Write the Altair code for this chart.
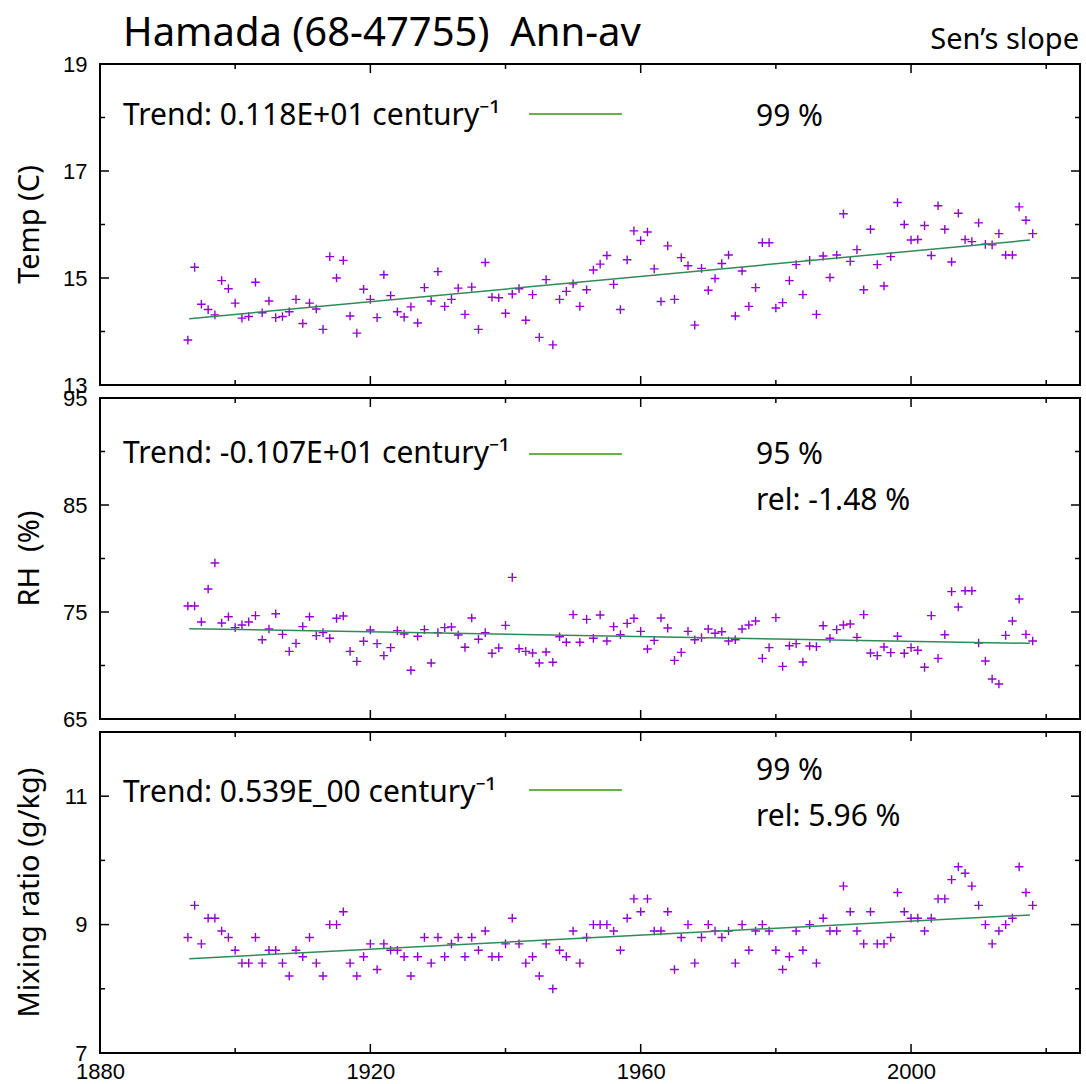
import altair as alt
import pandas as pd

# ---------------- data ----------------
years = list(range(1893, 2019))

temp = [
    13.84, 15.20, 14.51, 14.41, 14.31, 14.95, 14.80, 14.53, 14.25, 14.28,
    14.92, 14.35, 14.57, 14.26, 14.28, 14.37, 14.60, 14.15, 14.53, 14.42,
    14.04, 15.40, 15.00, 15.33, 14.29, 13.97, 14.79, 14.60, 14.26, 15.06,
    14.67, 14.37, 14.27, 14.46, 14.16, 14.82, 14.57, 15.12, 14.47, 14.60,
    14.81,
    14.32, 14.83, 14.04, 15.29, 14.64, 14.63, 14.34, 14.70, 14.80, 14.21,
    14.69, 13.89, 14.97, 13.75, 14.60, 14.75, 14.89, 14.47, 14.78, 15.15,
    15.26, 15.42, 14.88, 14.41, 15.34, 15.88, 15.70, 15.86, 15.17, 14.56,
    15.60, 14.60, 15.38, 15.23, 14.12, 15.18, 14.77, 14.99, 15.27, 15.43,
    14.29, 15.13, 14.47, 14.82, 15.66, 15.66, 14.44, 14.54, 14.95, 15.25,
    14.69, 15.33, 14.32, 15.41, 15.01, 15.43, 16.20, 15.31, 15.53, 14.78,
    15.91, 15.25, 14.85, 15.40, 16.41, 16.00, 15.71, 15.72, 15.98, 15.42,
    16.35, 15.91, 15.30, 16.21, 15.72, 15.68, 16.03, 15.63, 15.62, 15.83,
    15.43, 15.43, 16.33, 16.08, 15.83,
]

rh = [
    75.56, 75.56, 74.07, 77.15, 79.58, 73.97, 74.56, 73.54, 73.79, 74.07,
    74.66, 72.41, 73.41, 74.84, 72.91, 71.32, 72.07, 73.63, 74.56, 72.79,
    73.07, 72.54, 74.41, 74.63, 71.32, 70.39, 72.26, 73.32, 72.04, 70.92,
    71.67, 73.26, 72.94, 69.55, 72.73, 73.35, 70.23, 73.07, 73.54, 73.60,
    72.85,
    71.70, 74.44, 72.45, 73.07, 71.14, 71.64, 73.75, 78.24, 71.57, 71.32,
    71.17, 70.23, 71.26, 70.30, 72.69, 72.17, 74.75, 72.17, 74.31, 72.54,
    74.72, 72.29, 73.63, 72.88, 73.94, 74.41, 73.19, 71.54, 72.35, 74.44,
    73.50, 70.48, 71.23, 73.19, 72.41, 72.60, 73.41, 73.01, 73.16, 72.29,
    72.41, 73.41, 73.79, 74.16, 70.67, 71.67, 74.47, 69.92, 71.85, 72.04,
    70.33, 71.82, 71.76, 73.72, 72.54, 73.35, 73.79, 73.88, 72.63, 74.75,
    71.17, 70.92, 71.73, 71.20, 72.73, 71.14, 71.67, 71.42, 69.83, 74.66,
    70.67, 72.88, 76.90, 75.47, 76.99, 76.99, 72.10, 70.42, 68.74, 68.27,
    72.82, 74.16, 76.21, 72.91, 72.29,
]

mix = [
    8.8, 9.3, 8.7, 9.1, 9.1, 8.9, 8.8, 8.6, 8.4, 8.4,
    8.8, 8.4, 8.6, 8.6, 8.4, 8.2, 8.6, 8.5, 8.8, 8.4,
    8.2, 9.0, 9.0, 9.2, 8.4, 8.2, 8.5, 8.7, 8.3, 8.7,
    8.6, 8.6, 8.5, 8.2, 8.5, 8.8, 8.4, 8.8, 8.5, 8.7,
    8.8,
    8.5, 8.8, 8.6, 8.9, 8.5, 8.5, 8.7, 9.1, 8.7, 8.4,
    8.5, 8.2, 8.7, 8.0, 8.6, 8.5, 8.9, 8.4, 8.8, 9.0,
    9.0, 9.0, 8.9, 8.6, 9.1, 9.4, 9.2, 9.4, 8.9, 8.9,
    9.2, 8.3, 8.8, 9.0, 8.4, 8.8, 9.0, 8.9, 8.8, 8.9,
    8.4, 9.0, 8.6, 8.9, 9.0, 8.9, 8.6, 8.3, 8.5, 8.9,
    8.6, 9.0, 8.4, 9.1, 8.9, 8.9, 9.6, 9.2, 8.9, 8.7,
    9.2, 8.7, 8.7, 8.8, 9.5, 9.2, 9.1, 9.1, 8.9, 9.1,
    9.4, 9.4, 9.7, 9.9, 9.8, 9.6, 9.3, 9.0, 8.7, 8.9,
    9.0, 9.1, 9.9, 9.5, 9.3,
]

trend_years = [1893.2, 2017.6]
temp_trend = [14.24, 15.71]
rh_trend = [73.44, 72.07]
mix_trend = [8.47, 9.15]

x_domain = [1880, 2025]
x_major = [1880, 1920, 1960, 2000]
x_minor = [1900, 1940, 1980, 2020]

title_text = "Hamada (68-47755)\u00a0\u00a0Ann-av"
method_text = "Sen\u2019s slope"

panels_spec = [
    dict(ytitle="Temp (C)", vals=temp, trend=temp_trend, domain=[13, 19],
         major=[13, 15, 17, 19], minor=[14, 16, 18],
         trend_text="Trend: 0.118E+01 century\u207b\u00b9", sig="99 %", rel=None,
         ty=61, ly=50, sy=62, ry=None),
    dict(ytitle="RH\u00a0\u00a0(%)", vals=rh, trend=rh_trend, domain=[65, 95],
         major=[65, 75, 85, 95], minor=[70, 80, 90],
         trend_text="Trend: -0.107E+01 century\u207b\u00b9", sig="95 %", rel="rel: -1.48 %",
         ty=65, ly=56, sy=66, ry=112),
    dict(ytitle="Mixing ratio (g/kg)", vals=mix, trend=mix_trend, domain=[7, 12],
         major=[7, 9, 11], minor=[8, 10, 12],
         trend_text="Trend: 0.539E_00 century\u207b\u00b9", sig="99 %", rel="rel: 5.96 %",
         ty=70, ly=58, sy=48, ry=94),
]

# ---------------- styling ----------------
W = 980
H = 321
PURPLE = "#9400D3"
TREND = "#2E8B57"
KEY = "#6AB04C"
TXT_FONT = "Noto Sans"
NUM_FONT = "Liberation Sans"
MAJ = 9
MIN = 5
PLUS = "M-1,0H1M0,-1V1"


def text_layer(s, x, y, size=30, align="left", baseline="alphabetic", angle=0):
    return alt.Chart(pd.DataFrame({"t": [s]})).mark_text(
        font=TXT_FONT, fontSize=size, align=align, baseline=baseline,
        angle=angle, color="black"
    ).encode(text="t:N", x=alt.value(x), y=alt.value(y))


def make_panel(p, idx, last):
    if last:
        xaxis = alt.Axis(values=x_major, format="d", ticks=False, tickSize=0, domain=False, grid=False,
                         labelFont=NUM_FONT, labelFontSize=22, labelColor="black",
                         labelPadding=8, labelFlush=False, title=None)
    else:
        xaxis = None
    x_enc = alt.X("year:Q", scale=alt.Scale(domain=x_domain, nice=False, zero=False), axis=xaxis)
    y_enc = alt.Y("val:Q", scale=alt.Scale(domain=p["domain"], nice=False, zero=False),
                  axis=alt.Axis(values=p["major"], format="d", ticks=False, tickSize=0, domain=False,
                                grid=False, labelFont=NUM_FONT, labelFontSize=22, labelColor="black",
                                labelPadding=13, labelFlush=False, title=None))

    df = pd.DataFrame({"year": years, "val": p["vals"]})
    tdf = pd.DataFrame({"year": trend_years, "val": p["trend"]})

    layers = []
    pts = alt.Chart(df).mark_point(shape=PLUS, filled=False, size=75, strokeWidth=1.4,
                                   color=PURPLE, opacity=1).encode(x=x_enc, y=y_enc)
    line = alt.Chart(tdf).mark_line(color=TREND, strokeWidth=1.5).encode(x=x_enc, y=y_enc)
    layers += [pts, line]

    # inward ticks
    for vals, L in [(x_major, MAJ), (x_minor, MIN)]:
        xd = pd.DataFrame({"year": vals})
        layers.append(alt.Chart(xd).mark_rule(color="black", strokeWidth=1.5).encode(
            x=x_enc, y=alt.value(H), y2=alt.value(H - L)))
        layers.append(alt.Chart(xd).mark_rule(color="black", strokeWidth=1.5).encode(
            x=x_enc, y=alt.value(0), y2=alt.value(L)))
    for vals, L in [(p["major"], MAJ), (p["minor"], MIN)]:
        yd = pd.DataFrame({"val": vals})
        layers.append(alt.Chart(yd).mark_rule(color="black", strokeWidth=1.5).encode(
            y=y_enc, x=alt.value(0), x2=alt.value(L)))
        layers.append(alt.Chart(yd).mark_rule(color="black", strokeWidth=1.5).encode(
            y=y_enc, x=alt.value(W), x2=alt.value(W - L)))

    # annotations
    layers.append(text_layer(p["trend_text"], 23, p["ty"], size=30))
    layers.append(alt.Chart(pd.DataFrame({"k": [0]})).mark_rule(color=KEY, strokeWidth=2).encode(
        x=alt.value(429), x2=alt.value(522), y=alt.value(p["ly"])))
    layers.append(text_layer(p["sig"], 656, p["sy"], size=30))
    if p["rel"]:
        layers.append(text_layer(p["rel"], 656, p["ry"], size=30))
    layers.append(text_layer(p["ytitle"], -70, H / 2, size=29, align="center",
                             baseline="middle", angle=270))

    if idx == 0:
        layers.append(text_layer(title_text, 23, -18, size=40))
        layers.append(text_layer(method_text, W - 1, -15, size=29, align="right"))
        # invisible layout anchor fixing the plot origin at (99, 63)
        layers.append(alt.Chart(pd.DataFrame({"k": [0]})).mark_rule(opacity=0, strokeWidth=1).encode(
            x=alt.value(-99), x2=alt.value(-99), y=alt.value(-63), y2=alt.value(-60)))

    return alt.layer(*layers).properties(width=W, height=H)


charts = [make_panel(p, i, i == len(panels_spec) - 1) for i, p in enumerate(panels_spec)]

chart = alt.vconcat(*charts, spacing=13, bounds="flush").properties(
    padding=0
).configure_view(stroke="black", strokeWidth=2)

chart.save("out.html", embed_options={"renderer": "svg", "actions": False})
